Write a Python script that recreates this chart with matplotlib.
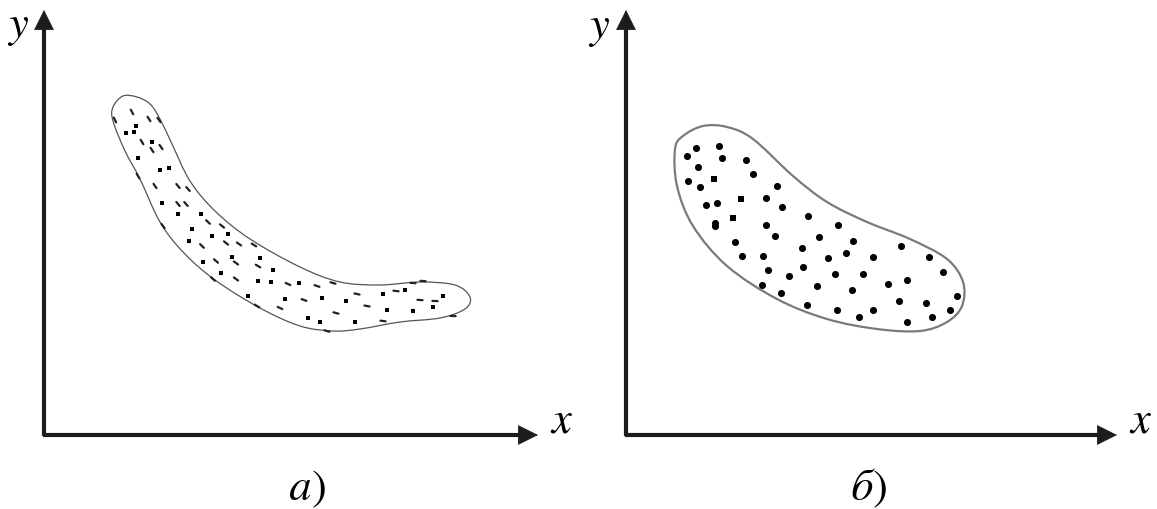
import matplotlib.pyplot as plt
import numpy as np
from matplotlib.path import Path
from matplotlib.patches import PathPatch

plt.rcParams['font.family'] = ['STIXGeneral', 'Liberation Serif', 'DejaVu Serif']

# ---- panel a: banana-shaped cloud (pixel coordinates of the figure)
outline_a_x = [113, 123, 137, 150, 160, 172, 190, 215, 250, 300, 340, 380, 420, 455,
               470, 465, 440, 400, 360, 333, 300, 260, 215, 183, 160, 140, 125, 113]
outline_a_y = [108, 97, 98, 105, 120, 145, 182, 212, 240, 268, 283, 286, 283, 286,
               298, 310, 319, 323, 330, 332, 327, 309, 281, 253, 223, 180, 152, 122]

sq_a_x = [136, 126, 134, 152, 138, 160, 169, 162, 178, 201, 192, 189, 212, 228, 203,
          232, 221, 260, 273, 258, 271, 299, 248, 285, 322, 346, 308, 320, 355, 383,
          405, 387, 413, 433, 443]
sq_a_y = [127, 134, 133, 143, 159, 171, 169, 204, 215, 215, 230, 242, 237, 235, 263,
          258, 274, 259, 271, 282, 283, 284, 297, 300, 299, 302, 319, 323, 323, 295,
          291, 311, 312, 308, 297]

dash_a_x = [132, 149, 159, 142, 152, 161, 155, 178, 188, 178, 186, 208, 222, 202, 226,
            239, 216, 236, 254, 258, 236, 288, 317, 333, 280, 304, 336, 357, 367, 396,
            420, 435, 413, 423, 383, 453, 115, 138, 163, 213, 257, 327]
dash_a_y = [113, 120, 121, 143, 151, 148, 187, 187, 190, 205, 205, 223, 227, 247, 244,
            245, 262, 264, 246, 267, 280, 285, 287, 284, 309, 301, 314, 295, 307, 292,
            301, 302, 284, 282, 322, 317, 121, 177, 227, 280, 307, 332]

# ---- panel b: round cloud
outline_b_x = [675, 683, 703, 727, 753, 793, 827, 867, 910, 947, 963, 962, 947, 920,
               877, 827, 777, 727, 693, 677]
outline_b_y = [150, 137, 127, 128, 140, 177, 203, 223, 240, 260, 283, 307, 323, 332,
               330, 320, 300, 267, 227, 187]

dot_b_x = [687, 696, 719, 722, 746, 698, 688, 700, 753, 777, 766, 706, 717, 782, 715,
           808, 715, 766, 838, 775, 819, 853, 735, 742, 763, 802, 828, 846, 873, 901,
           929, 768, 789, 803, 835, 863, 943, 762, 781, 817, 852, 888, 907, 957, 807,
           837, 859, 873, 899, 926, 950, 907, 932]
dot_b_y = [157, 149, 147, 159, 161, 168, 182, 188, 175, 187, 199, 206, 204, 208, 227,
           217, 224, 226, 226, 237, 238, 242, 243, 257, 257, 249, 259, 254, 258, 247,
           258, 271, 277, 268, 275, 275, 273, 286, 294, 287, 291, 285, 281, 297, 306,
           311, 318, 311, 302, 304, 311, 323, 318]
sq_b_x = [714, 741, 733]
sq_b_y = [180, 200, 219]


def closed_curve(xs, ys):
    # Catmull-Rom knots turned into cubic Bezier segments
    p = np.column_stack([xs, ys]).astype(float)
    n = len(p)
    verts = [p[0]]
    codes = [Path.MOVETO]
    for i in range(n):
        p0, p1, p2, p3 = p[i - 1], p[i], p[(i + 1) % n], p[(i + 2) % n]
        verts += [p1 + (p2 - p0) / 6, p2 - (p3 - p1) / 6, p2]
        codes += [Path.CURVE4] * 3
    return Path(verts, codes)


fig = plt.figure(figsize=(11.57, 5.10), dpi=100)
ax = fig.add_axes([0, 0, 1, 1])
ax.set_xlim(0, 1157)
ax.set_ylim(510, 0)
ax.axis('off')

# coordinate axes with arrows
ink = '#1c1c1c'
arrow = dict(arrowstyle='-|>', color=ink, lw=0.5, mutation_scale=34,
             shrinkA=0, shrinkB=0)
for x0, x1 in [(44, 538), (626, 1117)]:
    ax.plot([x0, x0], [437, 26], color=ink, lw=3.0, solid_capstyle='butt')
    ax.plot([x0 - 1, x1 - 16], [436, 436], color=ink, lw=3.0, solid_capstyle='butt')
    ax.annotate('', xy=(x0, 11), xytext=(x0, 40), arrowprops=arrow)
    ax.annotate('', xy=(x1, 436), xytext=(x1 - 30, 436), arrowprops=arrow)

font = dict(fontsize=32, color='black', va='baseline')
ax.text(18, 37, 'y', style='italic', ha='center', **font)
ax.text(599, 38, 'y', style='italic', ha='center', **font)
ax.text(561, 433, 'x', style='italic', ha='center', **font)
ax.text(1140, 433, 'x', style='italic', ha='center', **font)
ax.text(312, 500, 'а', style='italic', ha='right', **font)
ax.text(312, 500, ')', ha='left', **font)
ax.text(873, 500, 'б', style='italic', ha='right', **font)
ax.text(873, 500, ')', ha='left', **font)

# outlines
ax.add_patch(PathPatch(closed_curve(outline_a_x, outline_a_y), fill=False,
                       ec='#555555', lw=0.9))
ax.add_patch(PathPatch(closed_curve(outline_b_x, outline_b_y), fill=False,
                       ec='#7a7a7a', lw=1.6))

# panel a: squares and short dashes along the band
ax.scatter(sq_a_x, sq_a_y, marker='s', s=10, color='black', lw=0)
ang = np.interp(dash_a_x, [115, 200, 280, 380, 460], [-65, -45, -25, -8, 0])
dx = 2.6 * np.cos(np.radians(ang))
dy = -2.6 * np.sin(np.radians(ang))
for x, y, u, v in zip(dash_a_x, dash_a_y, dx, dy):
    ax.plot([x - u, x + u], [y - v, y + v], color='#222222', lw=1.6,
            solid_capstyle='round')

# panel b: dots
ax.scatter(dot_b_x, dot_b_y, marker='o', s=26, color='black', lw=0)
ax.scatter(sq_b_x, sq_b_y, marker='s', s=22, color='black', lw=0)

fig.savefig('out.png', dpi=100)
